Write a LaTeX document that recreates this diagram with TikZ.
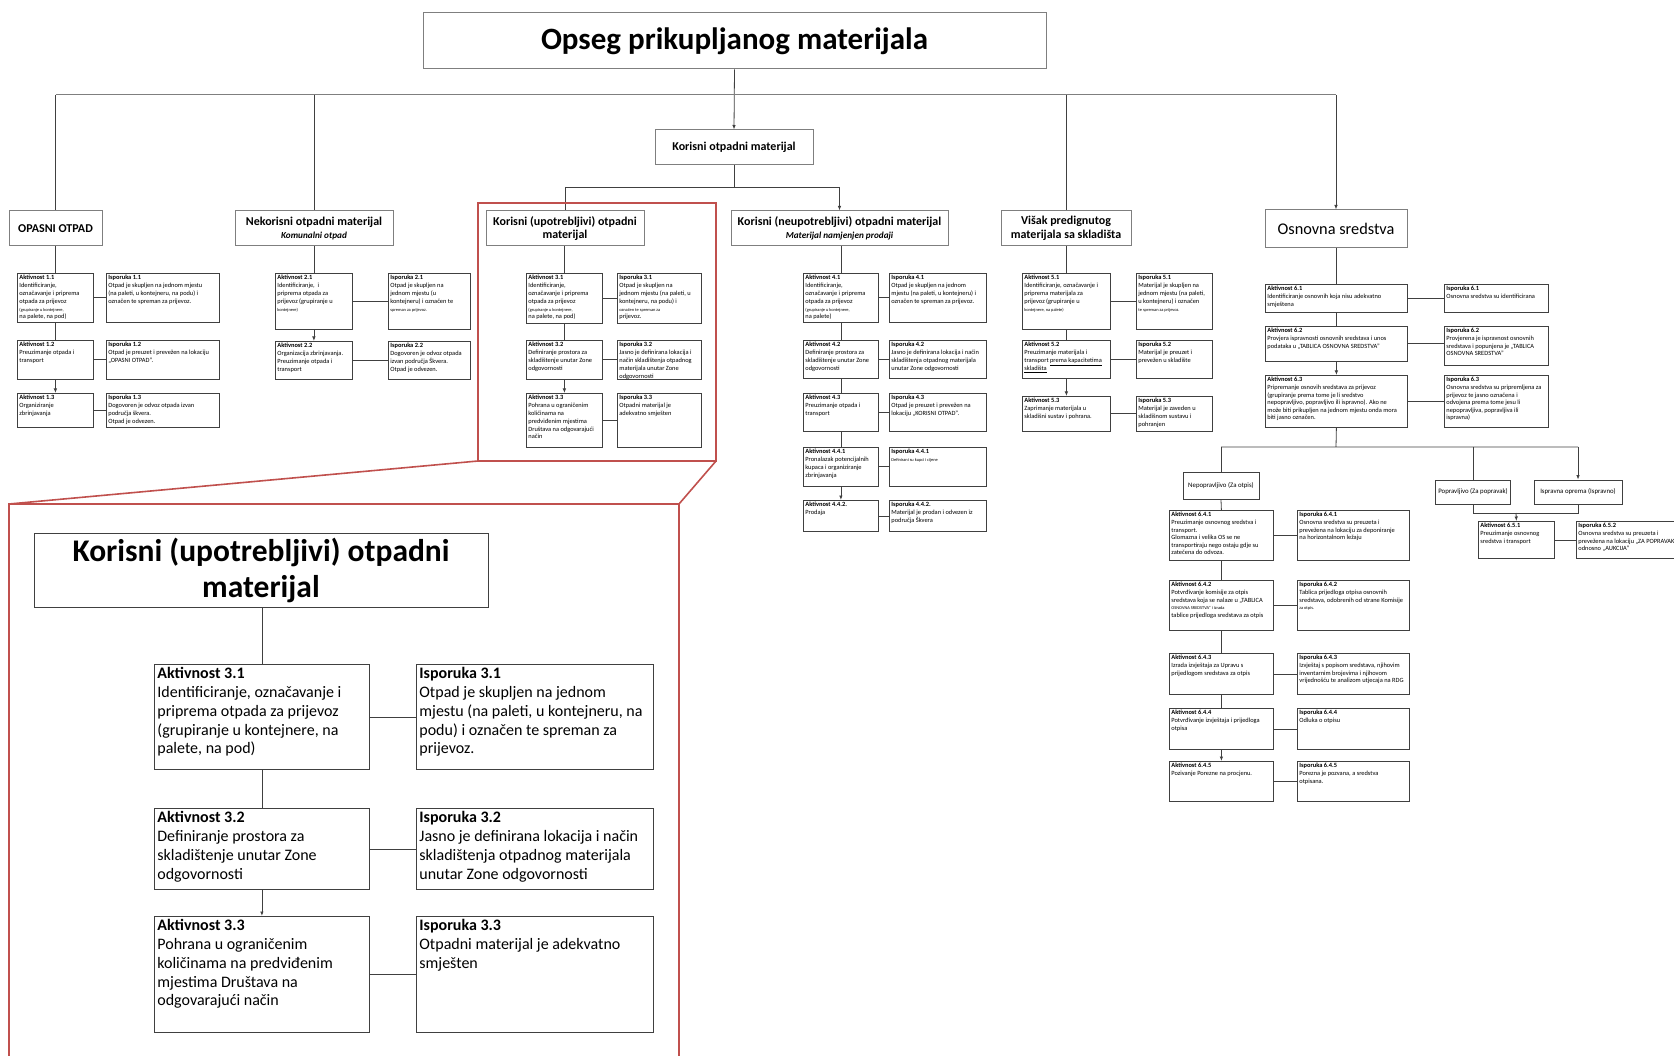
\documentclass[tikz,border=0pt]{standalone}
\usepackage{fontspec}
\setmainfont{Carlito}
\usetikzlibrary{arrows.meta}

\definecolor{boxline}{HTML}{404040}
\definecolor{headline}{HTML}{7F7F7F}
\definecolor{zoomred}{HTML}{C0504D}

\newcommand{\boxfont}{\fontsize{6.4}{7.8}\selectfont}
\newcommand{\osfont}{\fontsize{6.4}{7.6}\selectfont}
\newcommand{\tinyfont}{\fontsize{4.4}{7}\selectfont}
\newcommand{\headfont}{\fontsize{12}{13.5}\selectfont}
\newcommand{\subfont}{\fontsize{9.2}{10.5}\selectfont}
\newcommand{\insetfont}{\fontsize{16}{18.8}\selectfont}

\begin{document}
\begin{tikzpicture}[x=1pt, y=-1pt,
        blk/.style 2 args={
        draw=boxline, line width=0.8pt, anchor=north west,
        inner sep=2pt, font=\boxfont,
        execute at begin node={\begin{minipage}[c][#2pt][t]{#1pt}\raggedright},
        execute at end node={\end{minipage}}},
        head/.style={
        draw=headline, line width=1pt, align=center,
        inner sep=0pt, font=\headfont\bfseries},
        tag/.style={
        draw=boxline, line width=0.8pt,
        inner sep=0pt, font=\fontsize{6.8}{8}\selectfont},
        ln/.style={draw=boxline, line width=0.8pt},
        topln/.style={draw=headline, line width=1pt},
        arr/.style={ln, -{Latex[length=4.5pt,width=3.5pt]}},
        zoomline/.style={draw=zoomred, line width=1.6pt},
        ]

        \useasboundingbox (0,0) rectangle (1674,1056);
        \clip (0,0) rectangle (1674,1056);

        \node (title) [head, font=\fontsize{31}{35}\selectfont\bfseries, minimum width=623, minimum height=56] at (734.5,41) {Opseg prikupljanog materijala};
        \node (kom) [head, minimum width=158, minimum height=35] at (734,147.5) {Korisni otpadni materijal};

        \node (op) [head, minimum width=93, minimum height=35] at (55.5,228.5) {OPASNI OTPAD};
        \node (nek) [head, minimum width=158, minimum height=35] at (314,228.5) {Nekorisni otpadni materijal\\[-1pt]{\subfont\itshape Komunalni otpad}};
        \node (kup) [head, minimum width=158, minimum height=35] at (565,228.5) {Korisni (upotrebljivi) otpadni\\materijal};
        \node (neu) [head, minimum width=217, minimum height=35] at (839.5,228.5) {Korisni (neupotrebljivi) otpadni materijal\\[-1pt]{\subfont\itshape Materijal namjenjen prodaji}};
        \node (vis) [head, minimum width=130, minimum height=35] at (1066,228.5) {Višak predignutog\\materijala sa skladišta};
        \node (os) [head, font=\fontsize{16.3}{18}\selectfont, minimum width=142, minimum height=38] at (1336,229) {Osnovna sredstva};

        \coordinate (top) at (734,95);
        \coordinate (mid) at (734,187);
        \draw[arr] (title.south) -- (kom.north);
        \draw[topln] (op.north |- top) -- (os.north |- top);
        \draw[arr] (op.north |- top) -- (op.north) (nek.north |- top) -- (nek.north)
                   (vis.north |- top) -- (vis.north) (os.north |- top) -- (os.north);
        \draw[ln] (kom.south) -- (mid) (kup.north |- mid) -- (neu.north |- mid);
        \draw[arr] (kup.north |- mid) -- (kup.north) (neu.north |- mid) -- (neu.north);

        % opasni otpad
        \node (a11) [blk={72}{45}] at (17,273) {\textbf{Aktivnost 1.1}\\Identificiranje,\\označavanje i priprema\\otpada za prijevoz\\{\tinyfont (grupiranje u kontejnere,}\\na palete, na pod)};
        \node (i11) [blk={109}{45}] at (106,273) {\textbf{Isporuka 1.1}\\Otpad je skupljen na jednom mjestu\\(na paleti, u kontejneru, na podu) i\\označen te spreman za prijevoz.};
        \node (a12) [blk={72}{35}] at (17,340) {\textbf{Aktivnost 1.2}\\Preuzimanje otpada i\\transport};
        \node (i12) [blk={109}{35}] at (106,340) {\textbf{Isporuka 1.2}\\Otpad je preuzet i prevežen na lokaciju\\„OPASNI OTPAD”.};
        \node (a13) [blk={72}{30}] at (17,393) {\textbf{Aktivnost 1.3}\\Organiziranje\\zbrinjavanja};
        \node (i13) [blk={109}{30}] at (106,393) {\textbf{Isporuka 1.3}\\Dogovoren je odvoz otpada izvan\\područja škvera.\\Otpad je odvezen.};
        \draw[arr] (a11.north |- op.south) -- (a11.north) (a11.south) -- (a12.north) (a12.south) -- (a13.north);
        \draw[ln] (a11.east) -- (a11.east -| i11.west) (a12.east) -- (a12.east -| i12.west) (a13.east) -- (a13.east -| i13.west);

        % nekorisni
        \node (a21) [blk={73}{52}] at (275,273) {\textbf{Aktivnost 2.1}\\Identificiranje,~ i\\priprema otpada za\\prijevoz (grupiranje u\\{\tinyfont kontejnere)}};
        \node (i21) [blk={78}{52}] at (388,273) {\textbf{Isporuka 2.1}\\Otpad je skupljen na\\jednom mjestu (u\\kontejneru) i označen te\\{\tinyfont spreman za prijevoz.}};
        \node (a22) [blk={73}{34}] at (275,341) {\textbf{Aktivnost 2.2}\\Organizacija zbrinjavanja.\\Preuzimanje otpada i\\transport};
        \node (i22) [blk={78}{34}] at (388,341) {\textbf{Isporuka 2.2}\\Dogovoren je odvoz otpada\\izvan područja Škvera.\\Otpad je odvezen.};
        \draw[arr] (a21.north |- nek.south) -- (a21.north) (a21.south) -- (a22.north);
        \draw[ln] (a21.east) -- (a21.east -| i21.west) (a22.east) -- (a22.east -| i22.west);

        % korisni upotrebljivi
        \node (a31) [blk={72}{46}] at (526,273) {\textbf{Aktivnost 3.1}\\Identificiranje,\\označavanje i priprema\\otpada za prijevoz\\{\tinyfont (grupiranje u kontejnere,}\\na palete, na pod)};
        \node (i31) [blk={80}{46}] at (617,273) {\textbf{Isporuka 3.1}\\Otpad je skupljen na\\jednom mjestu (na paleti, u\\kontejneru, na podu) i\\{\tinyfont označen te spreman za}\\prijevoz.};
        \node (a32) [blk={72}{35}] at (526,340) {\textbf{Aktivnost 3.2}\\Definiranje prostora za\\skladištenje unutar Zone\\odgovornosti};
        \node (i32) [blk={80}{35}] at (617,340) {\textbf{Isporuka 3.2}\\Jasno je definirana lokacija i\\način skladištenja otpadnog\\materijala unutar Zone\\odgovornosti};
        \node (a33) [blk={72}{50}] at (526,393) {\textbf{Aktivnost 3.3}\\Pohrana u ograničenim\\količinama na\\predviđenim mjestima\\Društava na odgovarajući\\način};
        \node (i33) [blk={80}{50}] at (617,393) {\textbf{Isporuka 3.3}\\Otpadni materijal je\\adekvatno smješten};
        \draw[arr] (a31.north |- kup.south) -- (a31.north) (a31.south) -- (a32.north) (a32.south) -- (a33.north);
        \draw[ln] (a31.east) -- (a31.east -| i31.west) (a32.east) -- (a32.east -| i32.west) (a33.east) -- (a33.east -| i33.west);

        % korisni neupotrebljivi
        \node (a41) [blk={71}{45}] at (803,273) {\textbf{Aktivnost 4.1}\\Identificiranje,\\označavanje i priprema\\otpada za prijevoz\\{\tinyfont (grupiranje u kontejnere,}\\na palete)};
        \node (i41) [blk={93}{45}] at (889,273) {\textbf{Isporuka 4.1}\\Otpad je skupljen na jednom\\mjestu (na paleti, u kontejneru) i\\označen te spreman za prijevoz.};
        \node (a42) [blk={71}{34}] at (803,340) {\textbf{Aktivnost 4.2}\\Definiranje prostora za\\skladištenje unutar Zone\\odgovornosti};
        \node (i42) [blk={93}{34}] at (889,340) {\textbf{Isporuka 4.2}\\Jasno je definirana lokacija i način\\skladištenja otpadnog materijala\\unutar Zone odgovornosti};
        \node (a43) [blk={71}{34}] at (803,393) {\textbf{Aktivnost 4.3}\\Preuzimanje otpada i\\transport};
        \node (i43) [blk={93}{34}] at (889,393) {\textbf{Isporuka 4.3}\\Otpad je preuzet i prevežen na\\lokaciju „KORISNI OTPAD”.};
        \node (a441) [blk={71}{35}] at (803,447) {\textbf{Aktivnost 4.4.1}\\Pronalazak potencijalnih\\kupaca i organiziranje\\zbrinjavanja};
        \node (i441) [blk={93}{35}] at (889,447) {\textbf{Isporuka 4.4.1}\\{\tinyfont Definirani su kupci i cijene}};
        \node (a442) [blk={71}{27}] at (803,500) {\textbf{Aktivnost 4.4.2.}\\Prodaja};
        \node (i442) [blk={93}{27}] at (889,500) {\textbf{Isporuka 4.4.2.}\\Materijal je prodan i odvezen iz\\područja Škvera};
        \draw[arr] (a41.north |- neu.south) -- (a41.north) (a41.south) -- (a42.north) (a42.south) -- (a43.north)
                   (a43.south) -- (a441.north) (a441.south) -- (a442.north);
        \draw[ln] (a41.east) -- (a41.east -| i41.west) (a42.east) -- (a42.east -| i42.west) (a43.east) -- (a43.east -| i43.west)
                  (a441.east) -- (a441.east -| i441.west) (a442.east) -- (a442.east -| i442.west);

        % visak
        \node (a51) [blk={84}{52}] at (1022,273) {\textbf{Aktivnost 5.1}\\Identificiranje, označavanje i\\priprema materijala za\\prijevoz (grupiranje u\\{\tinyfont kontejnere, na palete)}};
        \node (i51) [blk={72}{52}] at (1136,273) {\textbf{Isporuka 5.1}\\Materijal je skupljen na\\jednom mjestu (na paleti,\\u kontejneru) i označen\\{\tinyfont te spreman za prijevoz.}};
        \node (a52) [blk={84}{34}] at (1022,340) {\textbf{Aktivnost 5.2}\\Preuzimanje materijala i\\transport \underline{prema kapacitetima}\\\underline{skladišta}};
        \node (i52) [blk={72}{34}] at (1136,340) {\textbf{Isporuka 5.2}\\Materijal je preuzet i\\prevežen u skladište};
        \node (a53) [blk={84}{31}] at (1022,396) {\textbf{Aktivnost 5.3}\\Zaprimanje materijala u\\skladišni sustav i pohrana.};
        \node (i53) [blk={72}{31}] at (1136,396) {\textbf{Isporuka 5.3}\\Materijal je zaveden u\\skladišnom sustavu i\\pohranjen};
        \draw[arr] (a51.north |- vis.south) -- (a51.north) (a51.south) -- (a52.north) (a52.south) -- (a53.north);
        \draw[ln] (a51.east) -- (a51.east -| i51.west) (a52.east) -- (a52.east -| i52.west) (a53.east) -- (a53.east -| i53.west);

        % osnovna sredstva
        \node (a61) [blk={138}{24}, font=\osfont] at (1265,284) {\textbf{Aktivnost 6.1}\\Identificiranje osnovnih koja nisu adekvatno\\smještena};
        \node (i61) [blk={100}{24}, font=\osfont] at (1444,284) {\textbf{Isporuka 6.1}\\Osnovna sredstva su identificirana};
        \node (a62) [blk={138}{31}, font=\osfont] at (1265,326) {\textbf{Aktivnost 6.2}\\Provjera ispravnosti osnovnih sredstava i unos\\podataka u „TABLICA OSNOVNA SREDSTVA”};
        \node (i62) [blk={100}{35}, font=\osfont] at (1444,326) {\textbf{Isporuka 6.2}\\Provjerena je ispravnost osnovnih\\sredstava i popunjena je „TABLICA\\OSNOVNA SREDSTVA”};
        \node (a63) [blk={138}{48}, font=\osfont] at (1265,375) {\textbf{Aktivnost 6.3}\\Pripremanje osnovih sredstava za prijevoz\\(grupiranje prema tome je li sredstvo\\nepopravljivo, popravljivo ili ispravno). Ako ne\\može biti prikupljen na jednom mjestu onda mora\\biti jasno označen.};
        \node (i63) [blk={100}{48}, font=\osfont] at (1444,375) {\textbf{Isporuka 6.3}\\Osnovna sredstva su pripremljena za\\prijevoz te jasno označena i\\odvojena prema tome jesu li\\nepopravljiva, popravljiva ili\\ispravna)};
        \draw[arr] (a61.north |- os.south) -- (a61.north) (a61.south) -- (a62.north) (a62.south) -- (a63.north);
        \draw[ln] (a61.east) -- (a61.east -| i61.west) (a62.east) -- (a62.east -| i62.west) (a63.east) -- (a63.east -| i63.west);

        \node (nep) [tag, minimum width=76, minimum height=27] at (1221,486) {Nepopravljivo (Za otpis)};
        \node (pop) [tag, minimum width=75, minimum height=24] at (1473,492) {Popravljivo (Za popravak)};
        \node (isp) [tag, minimum width=88, minimum height=24] at (1578,492) {Ispravna oprema (Ispravno)};
        \coordinate (br) at (1336,447);
        \draw[ln] (a63.south) -- (br) (nep.north |- br) -- (isp.north |- br);
        \draw[arr] (nep.north |- br) -- (nep.north) (pop.north |- br) -- (pop.north) (isp.north |- br) -- (isp.north);

        \node (a641) [blk={100}{46}, font=\osfont] at (1169,510) {\textbf{Aktivnost 6.4.1}\\Preuzimanje osnovnog sredstva i\\transport.\\Glomazna i velika OS se ne\\transportiraju nego ostaju gdje su\\zatečena do odvoza.};
        \node (i641) [blk={108}{46}, font=\osfont] at (1297,510) {\textbf{Isporuka 6.4.1}\\Osnovna sredstva su preuzeta i\\prevežena na lokaciju za deponiranje\\na horizontalnom ležaju};
        \node (a642) [blk={100}{46}, font=\osfont] at (1169,580) {\textbf{Aktivnost 6.4.2}\\Potvrđivanje komisije za otpis\\sredstava koja se nalaze u „TABLICA\\{\tinyfont OSNOVNA SREDSTVA” i izrada}\\tablice prijedloga sredstava za otpis};
        \node (i642) [blk={108}{46}, font=\osfont] at (1297,580) {\textbf{Isporuka 6.4.2}\\Tablica prijedloga otpisa osnovnih\\sredstava, odobrenih od strane Komisije\\{\tinyfont za otpis.}};
        \node (a643) [blk={100}{37}, font=\osfont] at (1169,653) {\textbf{Aktivnost 6.4.3}\\Izrada izvještaja za Upravu s\\prijedlogom sredstava za otpis};
        \node (i643) [blk={108}{37}, font=\osfont] at (1297,653) {\textbf{Isporuka 6.4.3}\\Izvještaj s popisom sredstava, njihovim\\inventarnim brojevima i njihovom\\vrijednošću te analizom utjecaja na RDG};
        \node (a644) [blk={100}{37}, font=\osfont] at (1169,708) {\textbf{Aktivnost 6.4.4}\\Potvrđivanje izvještaja i prijedloga\\otpisa};
        \node (i644) [blk={108}{37}, font=\osfont] at (1297,708) {\textbf{Isporuka 6.4.4}\\Odluka o otpisu};
        \node (a645) [blk={100}{36}, font=\osfont] at (1169,761) {\textbf{Aktivnost 6.4.5}\\Pozivanje Porezne na procjenu.};
        \node (i645) [blk={108}{36}, font=\osfont] at (1297,761) {\textbf{Isporuka 6.4.5}\\Porezna je pozvana, a sredstva\\otpisana.};
        \draw[arr] (nep.south) -- (a641.north) (a641.south) -- (a642.north) (a642.south) -- (a643.north)
                   (a643.south) -- (a644.north) (a644.south) -- (a645.north);
        \draw[ln] (a641.east) -- (a641.east -| i641.west) (a642.east) -- (a642.east -| i642.west) (a643.east) -- (a643.east -| i643.west)
                  (a644.east) -- (a644.east -| i644.west) (a645.east) -- (a645.east -| i645.west);

        \node (a651) [blk={72}{33}, font=\osfont] at (1478,521) {\textbf{Aktivnost 6.5.1}\\Preuzimanje osnovnog\\sredstva i transport};
        \node (i652) [blk={125}{33}, font=\osfont] at (1576,521) {\textbf{Isporuka 6.5.2}\\Osnovna sredstva su preuzeta i\\prevežena na lokaciju „ZA POPRAVAK”\\odnosno „AUKCIJA”};
        \coordinate (jn) at (1516,513);
        \draw[ln] (pop.south) -- (pop.south |- jn) -- (isp.south |- jn) -- (isp.south);
        \draw[arr] (jn) -- (a651.north);
        \draw[ln] (a651.east) -- (a651.east -| i652.west);

        % uvecani prikaz
        \draw[zoomline] (478,203) rectangle (716,461);
        \draw[zoomline] (478,461) -- (9,504) (716,461) -- (679,504);
        \draw[zoomline] (9,1070) -- (9,504) -- (679,504) -- (679,1070);

        \node (ititle) [head, draw=boxline, font=\fontsize{31.5}{36}\selectfont\bfseries, minimum width=454, minimum height=74] at (261,570) {Korisni (upotrebljivi) otpadni\\materijal};
        \node (ia31) [blk={209}{99}, inner sep=3pt, font=\insetfont] at (154,664) {\textbf{Aktivnost 3.1}\\Identificiranje, označavanje i\\priprema otpada za prijevoz\\(grupiranje u kontejnere, na\\palete, na pod)};
        \node (ii31) [blk={231}{99}, inner sep=3pt, font=\insetfont] at (416,664) {\textbf{Isporuka 3.1}\\Otpad je skupljen na jednom\\mjestu (na paleti, u kontejneru, na\\podu) i označen te spreman za\\prijevoz.};
        \node (ia32) [blk={209}{75}, inner sep=3pt, font=\insetfont] at (154,808) {\textbf{Aktivnost 3.2}\\Definiranje prostora za\\skladištenje unutar Zone\\odgovornosti};
        \node (ii32) [blk={231}{75}, inner sep=3pt, font=\insetfont] at (416,808) {\textbf{Isporuka 3.2}\\Jasno je definirana lokacija i način\\skladištenja otpadnog materijala\\unutar Zone odgovornosti};
        \node (ia33) [blk={209}{110}, inner sep=3pt, font=\insetfont] at (154,916) {\textbf{Aktivnost 3.3}\\Pohrana u ograničenim\\količinama na predviđenim\\mjestima Društava na\\odgovarajući način};
        \node (ii33) [blk={231}{110}, inner sep=3pt, font=\insetfont] at (416,916) {\textbf{Isporuka 3.3}\\Otpadni materijal je adekvatno\\smješten};
        \draw[arr] (ia31.north |- ititle.south) -- (ia31.north) (ia31.south) -- (ia32.north) (ia32.south) -- (ia33.north);
        \draw[ln] (ia31.east) -- (ia31.east -| ii31.west) (ia32.east) -- (ia32.east -| ii32.west) (ia33.east) -- (ia33.east -| ii33.west);
\end{tikzpicture}
\end{document}
